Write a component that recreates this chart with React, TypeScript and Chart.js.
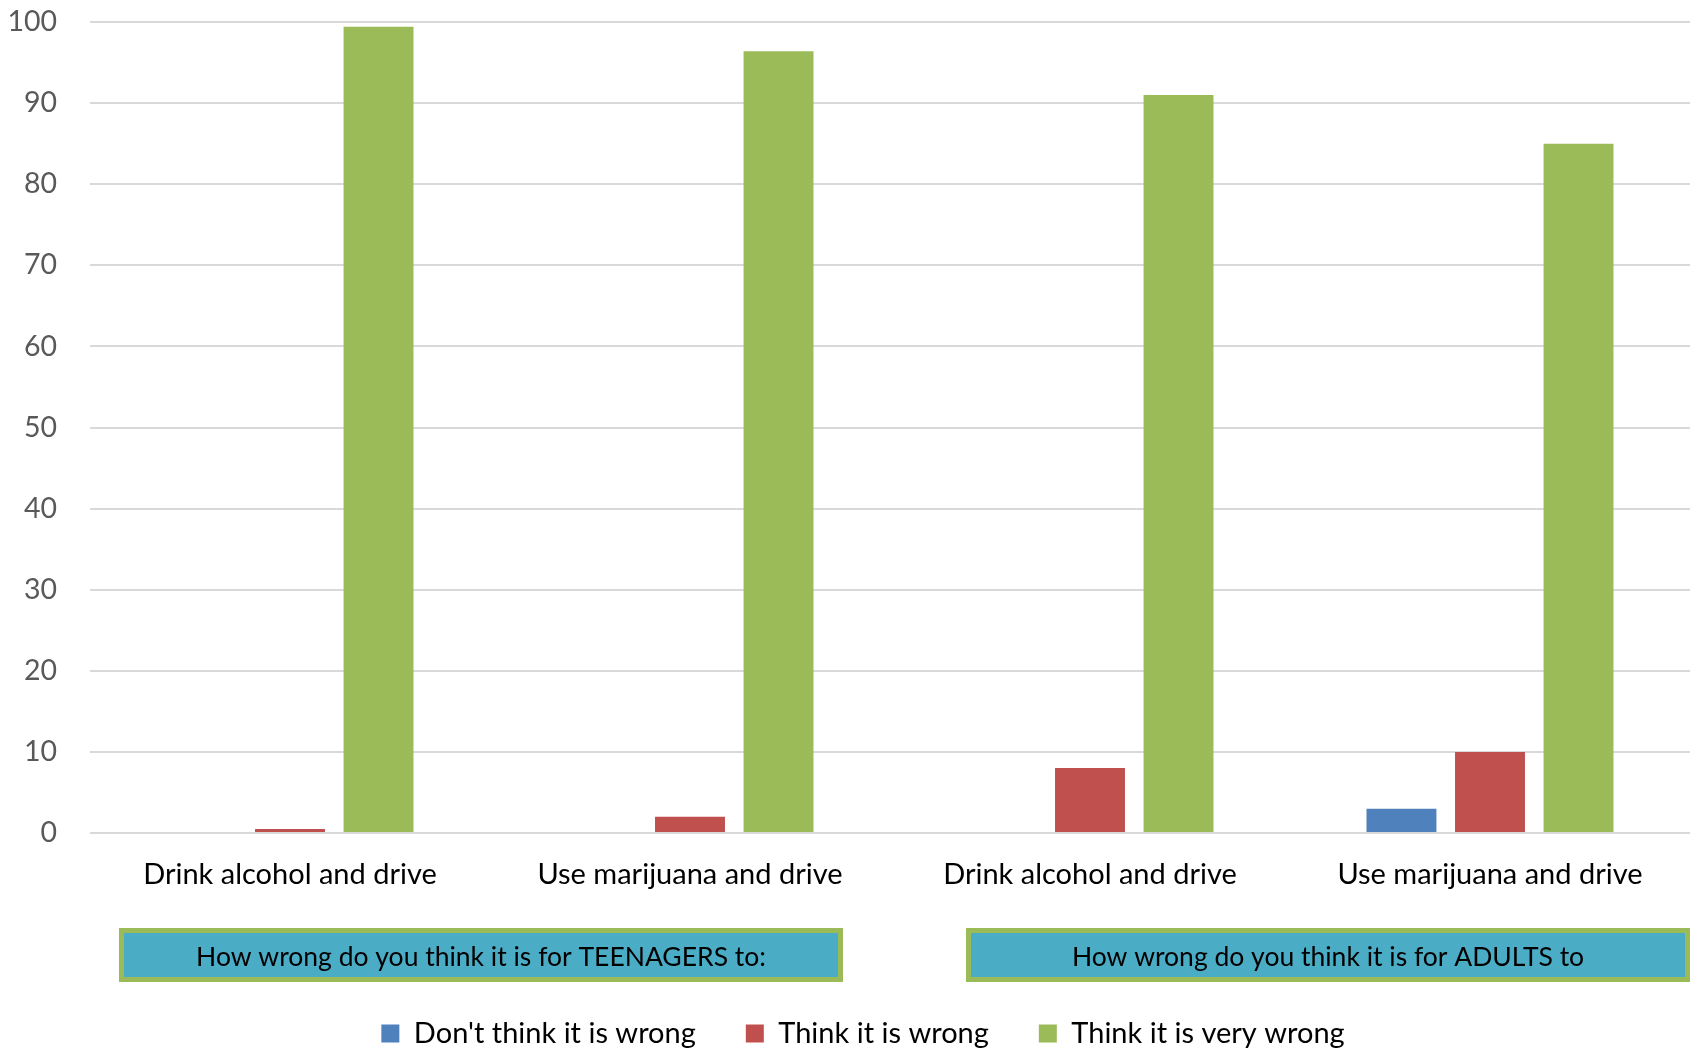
import React, { useEffect, useRef } from "react";
import { Chart, registerables } from "chart.js";

Chart.register(...registerables);

const categories = [
  "Drink alcohol and drive",
  "Use marijuana and drive",
  "Drink alcohol and drive",
  "Use marijuana and drive",
];
const dontThinkWrong = [0, 0, 0, 3];
const thinkWrong = [0.5, 2, 8, 10];
const thinkVeryWrong = [99.4, 96.4, 91, 85];
const seriesNames = ["Don't think it is wrong", "Think it is wrong", "Think it is very wrong"];
const groupTitles = ["How wrong do you think it is for TEENAGERS to:", "How wrong do you think it is for ADULTS to"];

const FONT = "Lato, 'Open Sans', sans-serif";

const boxesPlugin = {
  id: "groupBoxes",
  afterDraw(chart: any) {
    const ctx = chart.ctx;
    const area = chart.chartArea;
    const boxes = [
      { x0: area.left + 29, x1: area.left + 753 },
      { x0: area.left + 876, x1: area.left + 1600 },
    ];
    const top = 928;
    const bottom = 982;
    ctx.save();
    boxes.forEach((b, i) => {
      ctx.fillStyle = "#4BACC6";
      ctx.fillRect(b.x0, top, b.x1 - b.x0, bottom - top);
      ctx.strokeStyle = "#9BBB59";
      ctx.lineWidth = 5;
      ctx.strokeRect(b.x0 + 2.5, top + 2.5, b.x1 - b.x0 - 5, bottom - top - 5);
      ctx.fillStyle = "#000000";
      ctx.font = `26.5px ${FONT}`;
      ctx.textAlign = "center";
      ctx.textBaseline = "middle";
      ctx.fillText(groupTitles[i], (b.x0 + b.x1) / 2, (top + bottom) / 2 + 2);
    });
    ctx.restore();
  },
};

export default function App() {
  const canvasRef = useRef<HTMLCanvasElement | null>(null);

  useEffect(() => {
    if (!canvasRef.current) return;
    const chart = new Chart(canvasRef.current, {
      type: "bar",
      data: {
        labels: categories,
        datasets: [
          { label: seriesNames[0], data: dontThinkWrong, backgroundColor: "#4F81BD" },
          { label: seriesNames[1], data: thinkWrong, backgroundColor: "#C0504D" },
          { label: seriesNames[2], data: thinkVeryWrong, backgroundColor: "#9BBB59" },
        ],
      },
      options: {
        animation: false,
        responsive: true,
        maintainAspectRatio: false,
        layout: { padding: { top: 22, right: 0, left: 0, bottom: 0 } },
        datasets: { bar: { categoryPercentage: 0.664, barPercentage: 0.79 } },
        plugins: {
          tooltip: { enabled: false },
          legend: {
            position: "bottom",
            labels: {
              font: { family: FONT, size: 29 },
              color: "#000000",
              boxWidth: 18,
              boxHeight: 18,
              padding: 50,
            },
          },
        },
        scales: {
          x: {
            grid: { display: false },
            border: { display: false },
            ticks: {
              font: { family: FONT, size: 29 },
              color: "#000000",
              padding: 16,
              maxRotation: 0,
            },
            afterFit(scale: any) {
              scale.height = 136;
            },
          },
          y: {
            min: 0,
            max: 100,
            grid: {
              color: "#D9D9D9",
              lineWidth: 2,
              drawTicks: true,
              tickLength: 33,
              tickColor: "rgba(0,0,0,0)",
            },
            border: { display: false },
            ticks: {
              stepSize: 10,
              font: { family: FONT, size: 28.5 },
              color: "#595959",
              padding: 0,
            },
            afterFit(scale: any) {
              scale.width = 90;
            },
          },
          spacer: {
            type: "linear",
            position: "right",
            display: true,
            grid: { display: false, drawTicks: false },
            border: { display: false },
            ticks: { display: false },
            afterFit(scale: any) {
              scale.width = 36;
            },
          },
        },
      },
      plugins: [boxesPlugin],
    });
    return () => chart.destroy();
  }, []);

  return (
    <div style={{ position: "fixed", left: 0, top: 0, width: 1696, height: 1049, overflow: "hidden", background: "#ffffff" }}>
      <div style={{ position: "absolute", left: 0, top: 0, width: 1726, height: 1058 }}>
        <canvas ref={canvasRef} />
      </div>
    </div>
  );
}
